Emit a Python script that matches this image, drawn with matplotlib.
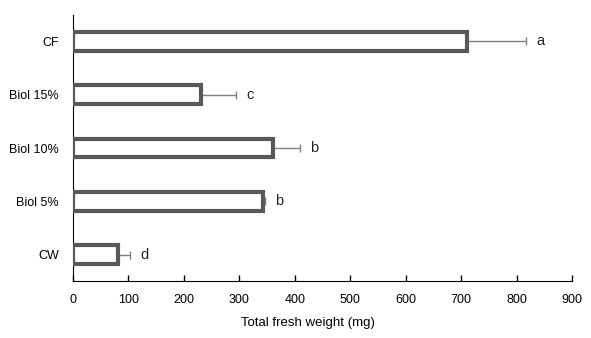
import matplotlib
matplotlib.use("Agg")
import matplotlib.pyplot as plt

plt.rcParams['font.family'] = ['Liberation Sans', 'DejaVu Sans']

# data, bottom to top
treatments = ["CW", "Biol 5%", "Biol 10%", "Biol 15%", "CF"]
fresh_weight = [81, 343, 360, 231, 710]
std_err = [22, 4, 49, 63, 107]
letters = ["d", "b", "b", "c", "a"]

fig = plt.figure(figsize=(5.91, 3.38), dpi=100)
ax = fig.add_axes([0.1235, 0.1686, 0.968 - 0.1235, 0.9556 - 0.1686])

pos = list(range(len(treatments)))
ax.barh(pos, fresh_weight, height=0.35, color="white", edgecolor="#595959",
        linewidth=3, zorder=3)
ax.errorbar(fresh_weight, pos, xerr=[[0] * len(pos), std_err], fmt="none",
            ecolor="#7f7f7f", elinewidth=1, capsize=3, capthick=1, zorder=2)

for y, v, e, lab in zip(pos, fresh_weight, std_err, letters):
    ax.text(v + e + 18, y, lab, va="center", ha="left", fontsize=10.5, color="#222222")

ax.set_xlim(0, 900)
ax.set_ylim(-0.49, 4.49)
ax.set_xticks(range(0, 901, 100))
ax.set_yticks(pos, treatments)
ax.tick_params(axis="x", direction="in", length=4, width=1, pad=9, labelsize=9)
ax.tick_params(axis="y", length=0, pad=10, labelsize=9)
ax.spines["top"].set_visible(False)
ax.spines["right"].set_visible(False)
ax.set_xlabel("Total fresh weight (mg)", fontsize=9.5)
ax.xaxis.set_label_coords(0.47, -0.135)

fig.savefig("out.png", dpi=100)
